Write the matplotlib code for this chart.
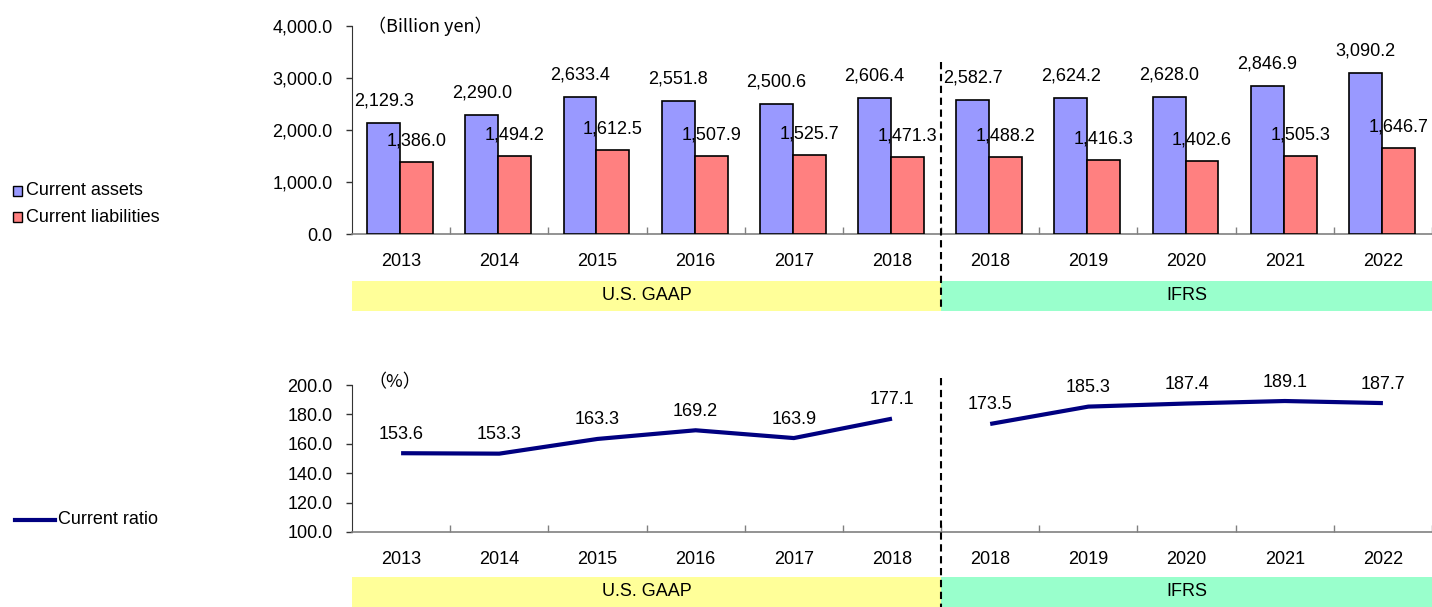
import matplotlib
matplotlib.use("Agg")
import matplotlib.pyplot as plt
from matplotlib.patches import Rectangle
from matplotlib.lines import Line2D
from matplotlib.ticker import FuncFormatter, FixedLocator

plt.rcParams['font.family'] = ['Liberation Sans', 'Noto Sans CJK JP', 'DejaVu Sans']

years = ["2013", "2014", "2015", "2016", "2017", "2018", "2018", "2019", "2020", "2021", "2022"]
current_assets = [2129.3, 2290.0, 2633.4, 2551.8, 2500.6, 2606.4, 2582.7, 2624.2, 2628.0, 2846.9, 3090.2]
current_liabilities = [1386.0, 1494.2, 1612.5, 1507.9, 1525.7, 1471.3, 1488.2, 1416.3, 1402.6, 1505.3, 1646.7]
current_ratio = [153.6, 153.3, 163.3, 169.2, 163.9, 177.1, 173.5, 185.3, 187.4, 189.1, 187.7]
standards = ["U.S. GAAP", "IFRS"]
n_gaap = 6

W, H = 1432, 607
fig = plt.figure(figsize=(W / 100, H / 100), dpi=100)

def fx(px):
    return px / W

def fy(py):
    return 1 - py / H

FS = 13
BLUE = "#9999FF"
RED = "#FF8080"
NAVY = "#000080"
n = len(years)

def style_axis(ax, ymin, ymax, step):
    ax.set_xlim(0, n)
    ax.set_ylim(ymin, ymax)
    for s in ("top", "right"):
        ax.spines[s].set_visible(False)
    ax.spines["left"].set_color("#333333")
    ax.spines["bottom"].set_color("#808080")
    ax.spines["bottom"].set_linewidth(1.2)
    ax.set_yticks([ymin + k * step for k in range(int(round((ymax - ymin) / step)) + 1)])
    ax.yaxis.set_major_formatter(FuncFormatter(lambda v, p: f"{v:,.1f}"))
    ax.tick_params(axis="y", direction="out", length=4, width=1, pad=10, labelsize=FS, color="#333333")
    ax.xaxis.set_major_locator(FixedLocator([i + 0.5 for i in range(n)]))
    ax.set_xticklabels(years)
    ax.xaxis.set_minor_locator(FixedLocator(list(range(1, n + 1))))
    ax.tick_params(axis="x", which="major", length=0, pad=14, labelsize=FS)
    ax.tick_params(axis="x", which="minor", direction="in", length=5, width=1, color="#808080")

# ---- Top bar chart ----
ax1 = fig.add_axes([fx(352), fy(234), fx(1080), (234 - 26) / H])
style_axis(ax1, 0, 4000, 1000)
bw = 0.335
ctr = [i + 0.49 for i in range(n)]
b1 = ax1.bar([c - bw / 2 for c in ctr], current_assets, width=bw, color=BLUE, edgecolor="black", linewidth=1.2, zorder=3)
b2 = ax1.bar([c + bw / 2 for c in ctr], current_liabilities, width=bw, color=RED, edgecolor="black", linewidth=1.2, zorder=3)
for c, v in zip(ctr, current_assets):
    ax1.annotate(f"{v:,.1f}", (c - bw / 2, v), xytext=(0, 22), textcoords="offset pixels",
                 ha="center", va="center", fontsize=FS, zorder=5)
for c, v in zip(ctr, current_liabilities):
    ax1.annotate(f"{v:,.1f}", (c + bw / 2, v), xytext=(0, 21), textcoords="offset pixels",
                 ha="center", va="center", fontsize=FS, zorder=5)
ax1.set_clip_on(False)
fig.text(fx(368), fy(26), "（Billion yen）", fontsize=FS, family=["Noto Sans CJK JP"], ha="left", va="center")

# ---- Bottom line chart ----
ax2 = fig.add_axes([fx(352), fy(532), fx(1080), (532 - 385) / H])
style_axis(ax2, 100, 200, 20)
xs = [i + 0.5 for i in range(n)]
ax2.plot(xs[:n_gaap], current_ratio[:n_gaap], color=NAVY, lw=3, solid_capstyle="butt", clip_on=False, zorder=3)
ax2.plot(xs[n_gaap:], current_ratio[n_gaap:], color=NAVY, lw=3, solid_capstyle="butt", clip_on=False, zorder=3)
for x, v in zip(xs, current_ratio):
    ax2.annotate(f"{v:.1f}", (x, v), xytext=(0, 19), textcoords="offset pixels",
                 ha="center", va="center", fontsize=FS, zorder=5, annotation_clip=False)
fig.text(fx(368), fy(382), "（%）", fontsize=FS, family=["Noto Sans CJK JP"], ha="left", va="center")

# ---- Accounting standard bands ----
def band(ytop, ybot):
    axb = fig.add_axes([fx(352), fy(ybot), fx(1080), (ybot - ytop) / H])
    axb.set_xlim(0, n)
    axb.set_ylim(0, 1)
    axb.axis("off")
    axb.add_patch(Rectangle((0, 0), n_gaap, 1, facecolor="#FFFF99", edgecolor="none"))
    axb.add_patch(Rectangle((n_gaap, 0), n - n_gaap, 1, facecolor="#99FFCC", edgecolor="none"))
    axb.text(n_gaap / 2, 0.5, standards[0], ha="center", va="center", fontsize=FS)
    axb.text((n_gaap + n) / 2, 0.5, standards[1], ha="center", va="center", fontsize=FS)

band(281, 311)
band(577, 607)

# ---- Dashed separators ----
for y0, y1 in ((62, 311), (378, 607)):
    fig.add_artist(Line2D([fx(941), fx(941)], [fy(y0), fy(y1)], color="black", lw=1.5,
                          linestyle=(0, (3.5, 2.2)), zorder=10))

# ---- Legends ----
fig.add_artist(Rectangle((fx(13), fy(196)), fx(9), 10 / H, facecolor=BLUE, edgecolor="black", lw=1))
fig.text(fx(26), fy(191), "Current assets", fontsize=FS, ha="left", va="center")
fig.add_artist(Rectangle((fx(13), fy(222)), fx(9), 10 / H, facecolor=RED, edgecolor="black", lw=1))
fig.text(fx(26), fy(217), "Current liabilities", fontsize=FS, ha="left", va="center")
fig.add_artist(Line2D([fx(15), fx(55)], [fy(520), fy(520)], color=NAVY, lw=3))
fig.text(fx(58), fy(520), "Current ratio", fontsize=FS, ha="left", va="center")

fig.savefig("out.png", dpi=100)
